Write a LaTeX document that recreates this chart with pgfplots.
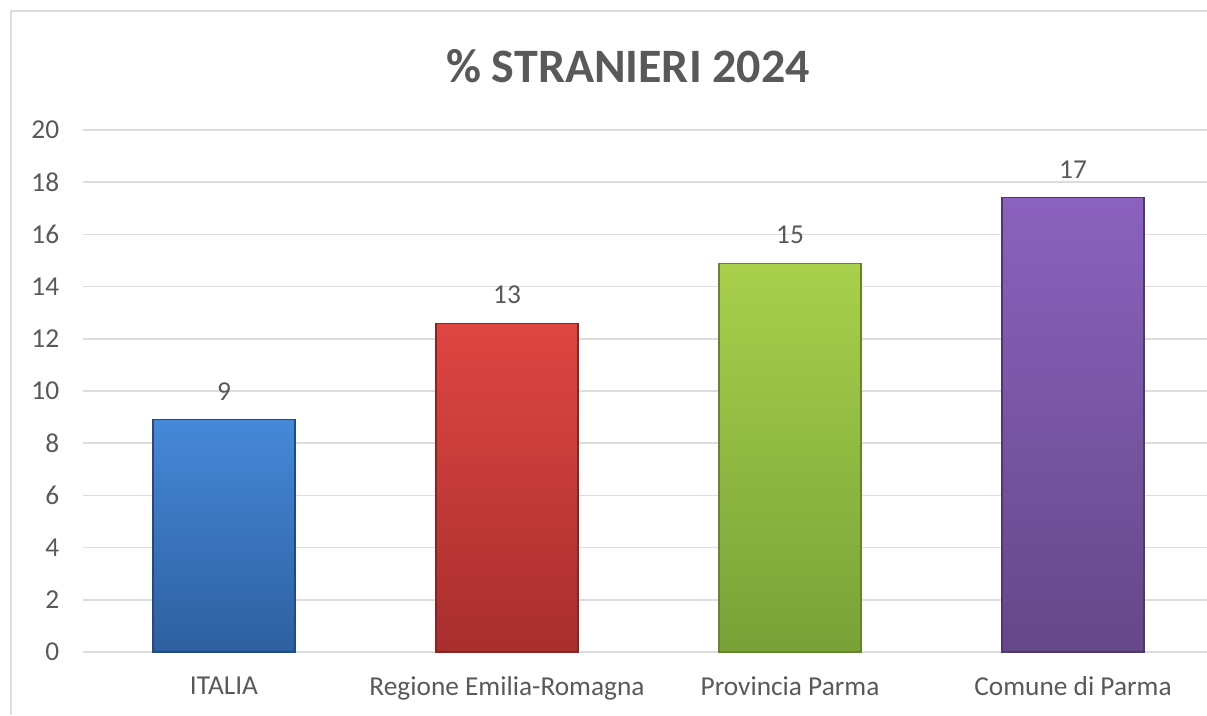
\documentclass[border=0pt]{standalone}
\usepackage{pgfplots}
\pgfplotsset{compat=1.18}
\usepackage{fontspec}
\setmainfont{Carlito}
\definecolor{txtc}{HTML}{595959}
\definecolor{gridc}{HTML}{DDDDDD}
\begin{document}
\begin{tikzpicture}[x=0.75pt,y=0.75pt]
\useasboundingbox (0,0) rectangle (1207,715);
\clip (0,0) rectangle (1207,715);
\draw[gridc, line width=1.5pt] (11,0) -- (11,704) -- (1220,704);
\node[text=txtc, font=\fontsize{36}{42}\selectfont\bfseries] at (628,649) {\% STRANIERI 2024};
\begin{axis}[
  at={(82.5*0.75pt,63*0.75pt)}, anchor=south west,
  scale only axis, width=849pt, height=391.5pt,
  xmin=-0.5, xmax=3.5, ymin=0, ymax=20,
  axis line style={draw=none},
  xtick={0,1,2,3},
  xticklabels={ITALIA,Regione Emilia-Romagna,Provincia Parma,Comune di Parma},
  ytick={0,2,...,20},
  major tick length=0pt, tick style={draw=none},
  xmajorgrids=false, ymajorgrids=true,
  major grid style={draw=gridc, line width=1.2pt},
  tick label style={text=txtc, font=\fontsize{20.5}{24}\selectfont},
  yticklabel style={xshift=-14pt},
  xticklabel style={yshift=-15pt},
  /pgf/number format/assume math mode=true,
  /pgf/number format/fixed, /pgf/number format/precision=0,
  ybar, bar width=106.5pt, bar shift=0pt,
  nodes near coords, point meta=y,
  every node near coord/.append style={text=txtc, font=\fontsize{20.5}{24}\selectfont, yshift=10.5pt},
  clip=false,
]
\addplot[draw={rgb,255:red,35;green,75;blue,130}, line width=0.8pt, top color={rgb,255:red,70;green,136;blue,216}, bottom color={rgb,255:red,46;green,96;blue,160}] coordinates {(0,8.9)};
\addplot[draw={rgb,255:red,140;green,35;blue,35}, line width=0.8pt, top color={rgb,255:red,222;green,70;blue,66}, bottom color={rgb,255:red,168;green,46;blue,46}] coordinates {(1,12.6)};
\addplot[draw={rgb,255:red,100;green,135;blue,45}, line width=0.8pt, top color={rgb,255:red,168;green,208;blue,76}, bottom color={rgb,255:red,120;green,162;blue,56}] coordinates {(2,14.9)};
\addplot[draw={rgb,255:red,80;green,55;blue,110}, line width=0.8pt, top color={rgb,255:red,138;green,98;blue,190}, bottom color={rgb,255:red,100;green,72;blue,136}] coordinates {(3,17.4)};
\end{axis}
\end{tikzpicture}
\end{document}
